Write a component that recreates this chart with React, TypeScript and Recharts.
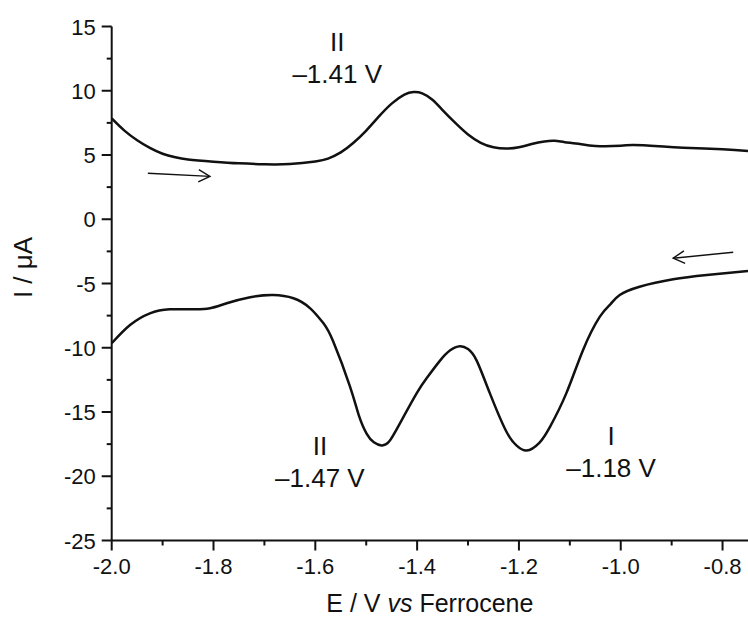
import { LineChart, Line, XAxis, YAxis, ReferenceLine, ReferenceDot, Label } from 'recharts';

// forward scan (upper trace), E in V vs Fc, I in µA
const upperE = [-2.0, -1.975, -1.95, -1.925, -1.9, -1.875, -1.85, -1.8, -1.75, -1.7, -1.65, -1.6, -1.575, -1.55, -1.525, -1.5, -1.475, -1.45, -1.425, -1.407, -1.39, -1.37, -1.35, -1.325, -1.3, -1.275, -1.25, -1.225, -1.2, -1.175, -1.15, -1.13, -1.11, -1.08, -1.05, -1.0, -0.975, -0.925, -0.877, -0.8, -0.75];
const upperI = [7.85, 6.9, 6.15, 5.55, 5.1, 4.82, 4.65, 4.48, 4.35, 4.28, 4.3, 4.5, 4.72, 5.2, 5.95, 6.9, 8.0, 9.0, 9.7, 9.9, 9.8, 9.3, 8.5, 7.5, 6.6, 5.95, 5.6, 5.5, 5.6, 5.85, 6.05, 6.1, 6.0, 5.85, 5.7, 5.72, 5.78, 5.68, 5.57, 5.45, 5.31];

// reverse scan (lower trace)
const lowerE = [-2.0, -1.964, -1.925, -1.886, -1.84, -1.807, -1.774, -1.728, -1.683, -1.643, -1.61, -1.584, -1.565, -1.532, -1.515, -1.499, -1.485, -1.47, -1.455, -1.434, -1.401, -1.38, -1.355, -1.335, -1.316, -1.3, -1.283, -1.257, -1.225, -1.205, -1.185, -1.16, -1.139, -1.107, -1.074, -1.041, -1.02, -1.002, -0.963, -0.897, -0.831, -0.75];
const lowerI = [-9.65, -8.23, -7.32, -7.01, -7.01, -6.93, -6.54, -6.07, -5.9, -6.15, -6.93, -8.1, -9.5, -13.0, -15.2, -16.7, -17.35, -17.6, -17.3, -15.9, -13.55, -12.3, -11.0, -10.2, -9.88, -10.1, -11.0, -13.55, -16.5, -17.6, -18.0, -17.4, -16.15, -13.55, -10.17, -7.58, -6.6, -5.9, -5.25, -4.67, -4.34, -4.02];

const xMajorTicks = [-2.0, -1.8, -1.6, -1.4, -1.2, -1.0, -0.8];
const xMinorTicks = [-1.9, -1.7, -1.5, -1.3, -1.1, -0.9];
const yMajorTicks = [-25, -20, -15, -10, -5, 0, 5, 10, 15];
const yMinorTicks = [-22.5, -17.5, -12.5, -7.5, -2.5, 2.5, 7.5, 12.5];

// peak labels: anchor (E, I) is the baseline centre of the potential line
const peakLabels = [
  { E: -1.557, I: 10.6, name: 'II', text: '–1.41 V' },
  { E: -1.591, I: -20.84, name: 'II', text: '–1.47 V' },
  { E: -1.019, I: -20.06, name: 'I', text: '–1.18 V' },
];

// scan direction arrows: [from, to]
const scanArrows = [
  [{ x: -1.929, y: 3.58 }, { x: -1.807, y: 3.34 }],
  [{ x: -0.779, y: -2.57 }, { x: -0.897, y: -3.03 }],
];

const upperData = upperE.map((e, i) => ({ E: e, I: upperI[i] }));
const lowerData = lowerE.map((e, i) => ({ E: e, I: lowerI[i] }));

const FONT = '"Liberation Sans", Arial, sans-serif';
const INK = '#111';

const isIn = (arr: number[], v: number) => arr.some(t => Math.abs(t - v) < 1e-6);

const XTick = ({ x, y, payload }: any) => {
  const major = isIn(xMajorTicks, payload.value);
  return (
    <g>
      <line x1={x} x2={x} y1={y} y2={y + (major ? 10 : 5)} stroke={INK} strokeWidth={2} />
      {major && (
        <text x={x} y={y + 33} textAnchor="middle" fontSize={22} fontFamily={FONT} fill={INK}>
          {Number(payload.value).toFixed(1)}
        </text>
      )}
    </g>
  );
};

const YTick = ({ x, y, payload }: any) => {
  const major = isIn(yMajorTicks, payload.value);
  return (
    <g>
      <line x1={x} x2={x - (major ? 10 : 5)} y1={y} y2={y} stroke={INK} strokeWidth={2} />
      {major && (
        <text x={x - 16} y={y + 8} textAnchor="end" fontSize={22} fontFamily={FONT} fill={INK}>
          {payload.value}
        </text>
      )}
    </g>
  );
};

const Arrow = (props: any) => {
  const { x1, y1, x2, y2 } = props;
  const a = Math.atan2(y2 - y1, x2 - x1);
  const len = 13;
  const spread = 0.5;
  const p1 = [x2 - len * Math.cos(a - spread), y2 - len * Math.sin(a - spread)];
  const p2 = [x2 - len * Math.cos(a + spread), y2 - len * Math.sin(a + spread)];
  return (
    <g stroke={INK} strokeWidth={1.4} fill="none">
      <line x1={x1} y1={y1} x2={x2} y2={y2} />
      <polyline points={`${p1[0]},${p1[1]} ${x2},${y2} ${p2[0]},${p2[1]}`} />
    </g>
  );
};

export default function App() {
  return (
    <div style={{ position: 'absolute', left: 0, top: 0, background: '#fff' }}>
      <LineChart width={748} height={619} margin={{ top: 26.5, right: 0, left: 31.7, bottom: 28.5 }}>
        <XAxis
          dataKey="E"
          type="number"
          domain={[-2.0, -0.75]}
          allowDataOverflow
          ticks={[...xMajorTicks, ...xMinorTicks].sort((a, b) => a - b)}
          interval={0}
          tickLine={false}
          tickSize={0}
          tickMargin={0}
          tick={<XTick />}
          axisLine={{ stroke: INK, strokeWidth: 2 }}
          height={50}
        >
          <Label
            content={({ viewBox }: any) => (
              <text
                x={viewBox.x + viewBox.width / 2}
                y={viewBox.y + 71.5}
                textAnchor="middle"
                fontSize={25}
                fontFamily={FONT}
                fill={INK}
              >
                E / V <tspan fontStyle="italic">vs</tspan> Ferrocene
              </text>
            )}
          />
        </XAxis>
        <YAxis
          type="number"
          domain={[-25, 15]}
          allowDataOverflow
          ticks={[...yMajorTicks, ...yMinorTicks].sort((a, b) => a - b)}
          interval={0}
          tickLine={false}
          tickSize={0}
          tickMargin={0}
          tick={<YTick />}
          axisLine={{ stroke: INK, strokeWidth: 2 }}
          width={80}
        >
          <Label
            content={({ viewBox }: any) => {
              const cx = viewBox.x - 8.5;
              const cy = viewBox.y + viewBox.height / 2 - 16;
              return (
                <text
                  x={cx}
                  y={cy}
                  transform={`rotate(-90 ${cx} ${cy})`}
                  textAnchor="middle"
                  dominantBaseline="central"
                  fontSize={26}
                  fontFamily={FONT}
                  fill={INK}
                >
                  I / μA
                </text>
              );
            }}
          />
        </YAxis>
        <Line
          data={upperData}
          dataKey="I"
          type="natural"
          stroke={INK}
          strokeWidth={2.5}
          dot={false}
          isAnimationActive={false}
        />
        <Line
          data={lowerData}
          dataKey="I"
          type="natural"
          stroke={INK}
          strokeWidth={2.5}
          dot={false}
          isAnimationActive={false}
        />
        {scanArrows.map((seg, i) => (
          <ReferenceLine key={`arrow-${i}`} segment={seg} shape={<Arrow />} />
        ))}
        {peakLabels.map((p, i) => (
          <ReferenceDot
            key={`peak-${i}`}
            x={p.E}
            y={p.I}
            r={0}
            shape={({ cx, cy }: any) => (
              <g fontFamily={FONT} fontSize={26} fill={INK} textAnchor="middle">
                <text x={cx} y={cy - 32}>{p.name}</text>
                <text x={cx} y={cy}>{p.text}</text>
              </g>
            )}
          />
        ))}
      </LineChart>
    </div>
  );
}
